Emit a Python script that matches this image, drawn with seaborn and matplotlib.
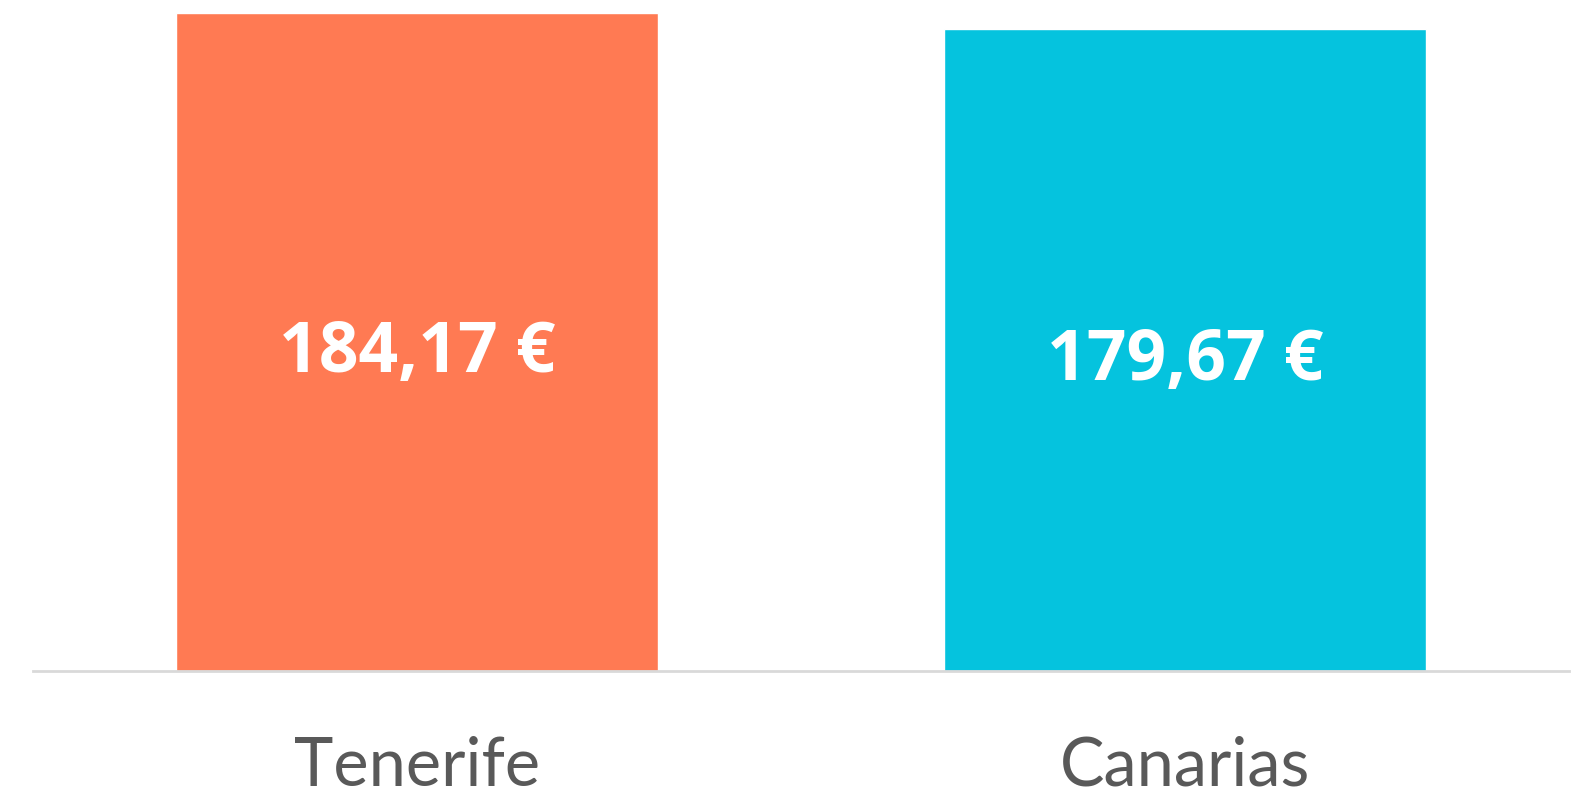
import pandas as pd
import seaborn as sns
import matplotlib.pyplot as plt

islands = ["Tenerife", "Canarias"]
prices = [184.17, 179.67]
bar_colors = ["#FF7A53", "#05C3DE"]

df = pd.DataFrame({"Zona": islands, "Precio": prices})

sns.set_style("white")
plt.rcParams["font.family"] = ["Lato", "DejaVu Sans"]

fig = plt.figure(figsize=(15.77, 8.04), dpi=100)
ax = fig.add_axes([33 / 1577, (804 - 672) / 804, 1536 / 1577, 672 / 804])
sns.barplot(data=df, x="Zona", y="Precio", hue="Zona", palette=bar_colors,
            width=0.628, saturation=1, legend=False, ax=ax)

ax.set_xlim(-0.5, 1.5)
ax.set_ylim(0, 184.17 * 672 / 658)

# labels in the middle of the bars (baseline a bit below the middle)
for i, v in enumerate(prices):
    txt = f"{v:.2f}".replace(".", ",") + " €"
    ax.annotate(txt, xy=(i, v / 2), xytext=(0, -21), textcoords="offset points",
                ha="center", va="baseline", color="white",
                fontsize=50, fontweight="bold",
                family=["Open Sans", "DejaVu Sans"])

for s in ["top", "right", "left"]:
    ax.spines[s].set_visible(False)
ax.spines["bottom"].set_color("#D9D9D9")
ax.spines["bottom"].set_linewidth(2)
ax.set_yticks([])
ax.set_xlabel("")
ax.set_ylabel("")
ax.tick_params(axis="x", length=0, pad=46, labelsize=48, labelcolor="#595959")

fig.savefig("out.png", dpi=100)
